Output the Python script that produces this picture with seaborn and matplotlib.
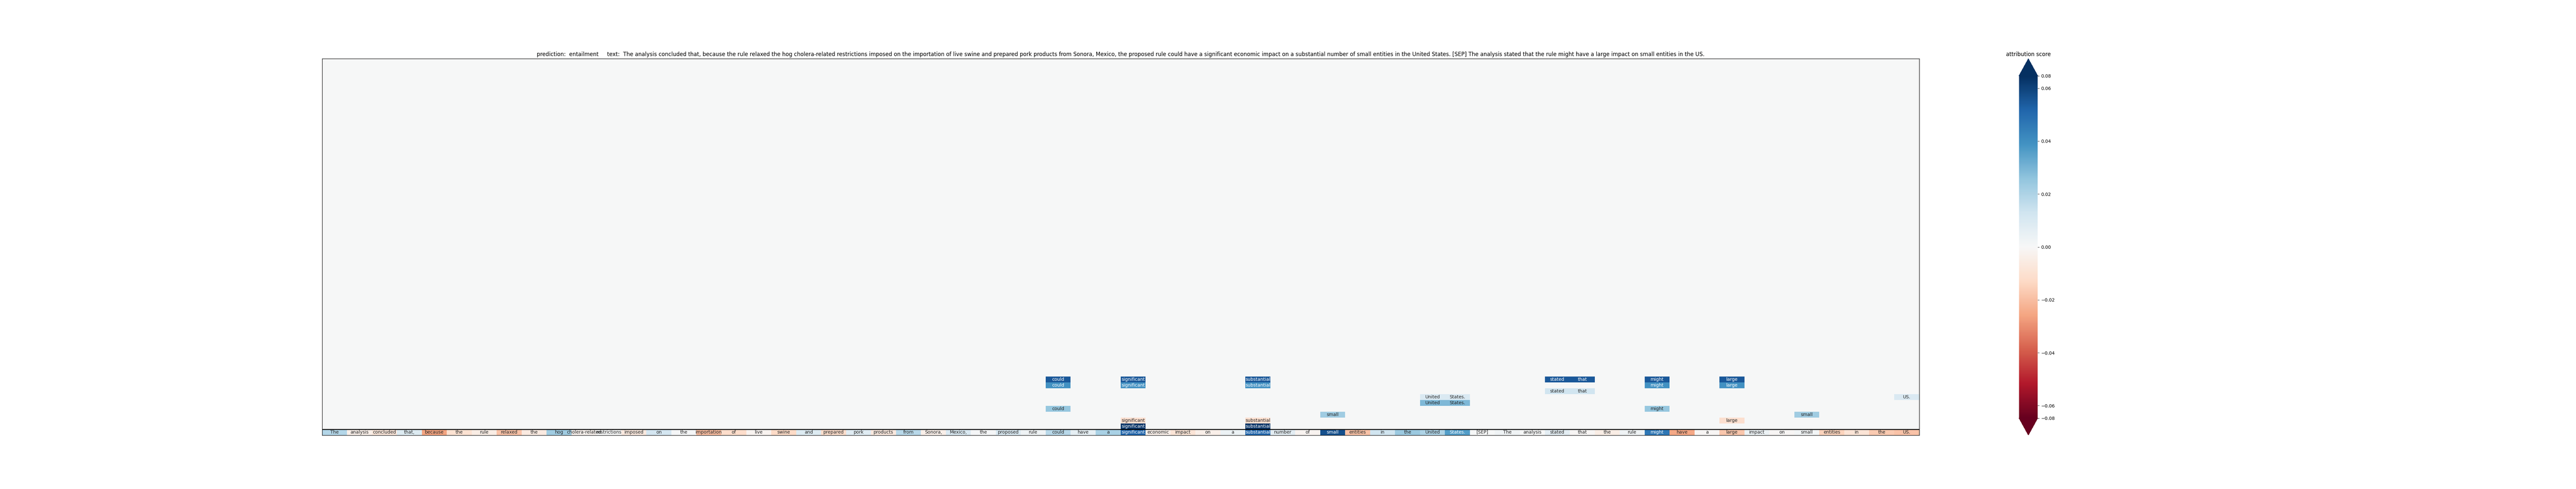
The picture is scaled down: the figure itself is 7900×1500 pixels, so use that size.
import numpy as np
import matplotlib
matplotlib.use('Agg')
import matplotlib.pyplot as plt
import matplotlib.colors as mcolors
import seaborn as sns

PREDICTION = "entailment"

TOKENS = [
    "The", "analysis", "concluded", "that,", "because", "the", "rule", "relaxed",
    "the", "hog", "cholera-related", "restrictions", "imposed", "on", "the", "importation",
    "of", "live", "swine", "and", "prepared", "pork", "products", "from",
    "Sonora,", "Mexico,", "the", "proposed", "rule", "could", "have", "a",
    "significant", "economic", "impact", "on", "a", "substantial", "number", "of",
    "small", "entities", "in", "the", "United", "States.", "[SEP]", "The",
    "analysis", "stated", "that", "the", "rule", "might", "have", "a",
    "large", "impact", "on", "small", "entities", "in", "the", "US.",
]

# word level attribution (bottom row)
WORD_SCORES = [
    0.019, -0.004, -0.008, 0.009, -0.026, -0.010, -0.005, -0.019,
    -0.006, 0.023, -0.003, 0.000, -0.007, 0.012, 0.001, -0.020,
    -0.012, -0.002, -0.013, 0.009, -0.012, 0.008, -0.007, 0.018,
    -0.004, 0.010, 0.001, 0.010, 0.003, 0.018, 0.006, 0.021,
    0.052, -0.004, -0.009, -0.004, 0.004, 0.052, 0.007, -0.002,
    0.057, -0.019, 0.013, 0.024, 0.020, 0.036, 0.000, 0.003,
    0.0005, 0.007, -0.001, -0.005, 0.003, 0.047, -0.025, -0.001,
    -0.018, 0.004, -0.001, 0.002, -0.015, -0.009, -0.017, -0.019,
]

# span attributions above the sentence, from bottom to top: (token index, score)
SPAN_ROW_1 = [(32, 0.075), (37, 0.075)]
SPAN_ROW_2 = [(32, -0.011), (37, -0.011), (56, -0.011)]
SPAN_ROW_3 = [(40, 0.023), (59, 0.023)]
SPAN_ROW_4 = [(29, 0.025), (53, 0.025)]
SPAN_ROW_5 = [(44, 0.029), (45, 0.029)]
SPAN_ROW_6 = [(44, 0.010), (45, 0.010), (63, 0.010)]
SPAN_ROW_7 = [(49, 0.013), (50, 0.013)]
SPAN_ROW_8 = [(29, 0.039), (32, 0.039), (37, 0.039), (53, 0.039), (56, 0.039)]
SPAN_ROW_9 = [(29, 0.055), (32, 0.055), (37, 0.055), (49, 0.055), (50, 0.055),
              (53, 0.055), (56, 0.055)]
SPAN_ROWS = [SPAN_ROW_1, SPAN_ROW_2, SPAN_ROW_3, SPAN_ROW_4, SPAN_ROW_5,
             SPAN_ROW_6, SPAN_ROW_7, SPAN_ROW_8, SPAN_ROW_9]

CBAR_TICKS = [-0.08, -0.06, -0.04, -0.02, 0.0, 0.02, 0.04, 0.06, 0.08]

n = len(TOKENS)
scores = np.zeros((n, n))
annot = np.full((n, n), "", dtype=object)
scores[n - 1] = WORD_SCORES
annot[n - 1] = TOKENS
for level, row in enumerate(SPAN_ROWS, start=1):
    for idx, val in row:
        scores[n - 1 - level, idx] = val
        annot[n - 1 - level, idx] = TOKENS[idx]

# colour scale: linear in [-0.06, 0.06], compressed tails up to +-0.08
TAIL = 0.2353


def fwd(x):
    x = np.asarray(x, dtype=float)
    return np.where(x > 0.06, 0.06 + (x - 0.06) * TAIL,
                    np.where(x < -0.06, -0.06 + (x + 0.06) * TAIL, x))


def inv(y):
    y = np.asarray(y, dtype=float)
    return np.where(y > 0.06, 0.06 + (y - 0.06) / TAIL,
                    np.where(y < -0.06, -0.06 + (y + 0.06) / TAIL, y))


norm = mcolors.FuncNorm((fwd, inv), vmin=-0.08, vmax=0.08)

text = " ".join(TOKENS)
fig, ax = plt.subplots(figsize=(79, 15), dpi=100)
sns.heatmap(scores, annot=annot, fmt="", cmap="RdBu", norm=norm, ax=ax,
            xticklabels=False, yticklabels=False,
            cbar_kws={"extend": "both", "ticks": CBAR_TICKS})
ax.axhline(n - 1, color="black", lw=2)
for sp in ax.spines.values():
    sp.set_visible(True)
    sp.set_color("black")
    sp.set_linewidth(1)
ax.set_title(f"prediction:  {PREDICTION}     text:  {text}")
cbar = ax.collections[0].colorbar
cbar.ax.set_title("attribution score")

plt.savefig("out.png", dpi=100)
plt.close()
